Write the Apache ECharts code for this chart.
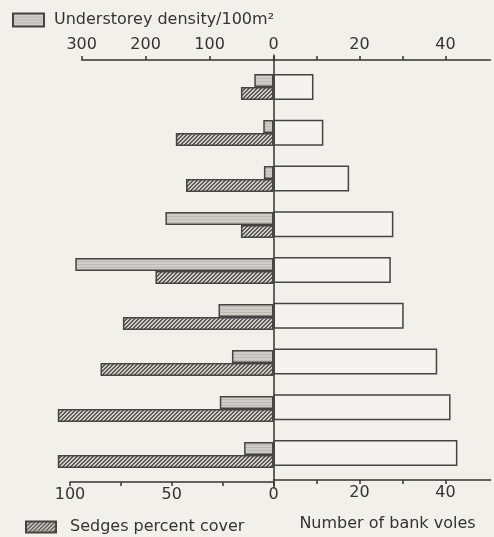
<!DOCTYPE html>
<html>
<head>
<meta charset="utf-8">
<script src="https://cdn.jsdelivr.net/npm/echarts@6.0.0/dist/echarts.min.js"></script>
<style>
  html, body { margin: 0; padding: 0; background: #f1f0eb; }
  #chart { width: 494px; height: 537px; }
</style>
</head>
<body>
<div id="chart"></div>
<script>
// sites, top to bottom
var sites = ['1', '2', '3', '4', '5', '6', '7', '8', '9'];
var understorey = [30, 16, 15, 169, 310, 86, 65, 84, 46];
var sedges = [16, 48, 43, 16, 58, 74, 85, 106, 106];
var voles = [9.3, 11.6, 17.6, 27.9, 27.3, 30.3, 38.1, 41.2, 42.8];

var understoreyTicks = [0, 100, 200, 300];
var sedgesTicks = [0, 25, 50, 75, 100];
var sedgesLabels = [0, 50, 100];
var volesTicks = [10, 20, 30, 40];
var volesLabels = [20, 40];

var ink = '#333';
var font = 'DejaVu Sans';

// fine horizontal stripes for the understorey bars
function stripes() {
    var c = document.createElement('canvas');
    c.width = 4; c.height = 3;
    var ctx = c.getContext('2d');
    ctx.fillStyle = '#cfcdc7';
    ctx.fillRect(0, 0, 4, 3);
    ctx.fillStyle = '#bcbab4';
    ctx.fillRect(0, 0, 4, 1);
    return c;
}
// diagonal hatching for the sedges bars
function hatch() {
    var c = document.createElement('canvas');
    c.width = 4; c.height = 4;
    var ctx = c.getContext('2d');
    for (var x = 0; x < 4; x++) {
        for (var y = 0; y < 4; y++) {
            var k = (x + y) % 4;
            ctx.fillStyle = (k === 0 || k === 1) ? '#5c5b58' : '#cfcdc8';
            ctx.fillRect(x, y, 1, 1);
        }
    }
    return c;
}

function valueAxis(grid, pos, max, inverse, ticks, labels, extra) {
    var ax = {
        type: 'value',
        gridIndex: grid,
        position: pos,
        offset: 0,
        min: 0,
        max: max,
        inverse: inverse,
        splitLine: { show: false },
        axisLine: { show: true, lineStyle: { color: ink, width: 1.5 } },
        axisTick: { show: true, length: 4, customValues: ticks, lineStyle: { color: ink, width: 1.5 } },
        axisLabel: { customValues: labels, color: ink, fontFamily: font, fontSize: 16, margin: pos === 'top' ? 7 : 5 }
    };
    for (var k in extra) ax[k] = extra[k];
    return ax;
}

function catAxis(grid) {
    return { type: 'category', gridIndex: grid, data: sites, inverse: true, show: false };
}

var myChart = echarts.init(document.getElementById('chart'));

var option = {
    backgroundColor: '#f1f0eb',
    animation: false,
    textStyle: { fontFamily: font },
    legend: [{
        data: ['Understorey density/100m²'],
        left: 7, top: 7,
        icon: 'rect',
        itemWidth: 31, itemHeight: 13,
        textStyle: { color: ink, fontSize: 16, fontFamily: font, padding: [0, 0, 0, 5] }
    }, {
        data: ['Sedges percent cover'],
        left: 20, top: 514,
        icon: 'rect',
        itemWidth: 30, itemHeight: 11,
        textStyle: { color: ink, fontSize: 16, fontFamily: font, padding: [0, 0, 0, 9] }
    }],
    grid: [
        // understorey: upper half of each band
        { left: 81.7, right: 220.5, top: 57.5, bottom: 65.5 },
        // sedges: lower half of each band
        { left: 70, right: 220.5, top: 70.5, bottom: 52.5 },
        // bank voles
        { left: 273.5, right: 3.5, top: 64, bottom: 59 },
        // centre line
        { left: 273.5, width: 10, top: 55, bottom: 49 }
    ],
    xAxis: [
        valueAxis(0, 'top', 300, true, understoreyTicks, understoreyTicks, { offset: -2.5 }),
        valueAxis(1, 'bottom', 100, true, sedgesTicks, sedgesLabels, { offset: -2.5 }),
        valueAxis(2, 'top', 50.5, false, volesTicks, volesLabels, { offset: 4 }),
        valueAxis(2, 'bottom', 50.5, false, volesTicks, volesLabels, {
            offset: 4,
            name: 'Number of bank voles',
            nameLocation: 'middle',
            nameGap: 36,
            nameTextStyle: { color: ink, fontSize: 16, fontFamily: font, padding: [0, 0, 0, 11] }
        }),
        { type: 'value', gridIndex: 3, show: false }
    ],
    yAxis: [
        catAxis(0), catAxis(1), catAxis(2),
        {
            type: 'value', gridIndex: 3, min: 0, max: 1,
            axisLine: { show: true, lineStyle: { color: ink, width: 1.5 } },
            axisTick: { show: false }, axisLabel: { show: false }, splitLine: { show: false }
        }
    ],
    series: [{
        name: 'Understorey density/100m²',
        type: 'bar',
        xAxisIndex: 0, yAxisIndex: 0,
        barWidth: 13,
        clip: false,
        itemStyle: { color: { image: stripes(), repeat: 'repeat' }, borderColor: '#444', borderWidth: 1.5 },
        data: understorey
    }, {
        name: 'Sedges percent cover',
        type: 'bar',
        xAxisIndex: 1, yAxisIndex: 1,
        barWidth: 13,
        clip: false,
        itemStyle: { color: { image: hatch(), repeat: 'repeat' }, borderColor: '#444', borderWidth: 1.5 },
        data: sedges
    }, {
        name: 'Number of bank voles',
        type: 'bar',
        xAxisIndex: 2, yAxisIndex: 2,
        barWidth: 26,
        itemStyle: { color: '#f4f3ef', borderColor: '#444', borderWidth: 1.5 },
        data: voles
    }]
};

myChart.setOption(option);
</script>
</body>
</html>
